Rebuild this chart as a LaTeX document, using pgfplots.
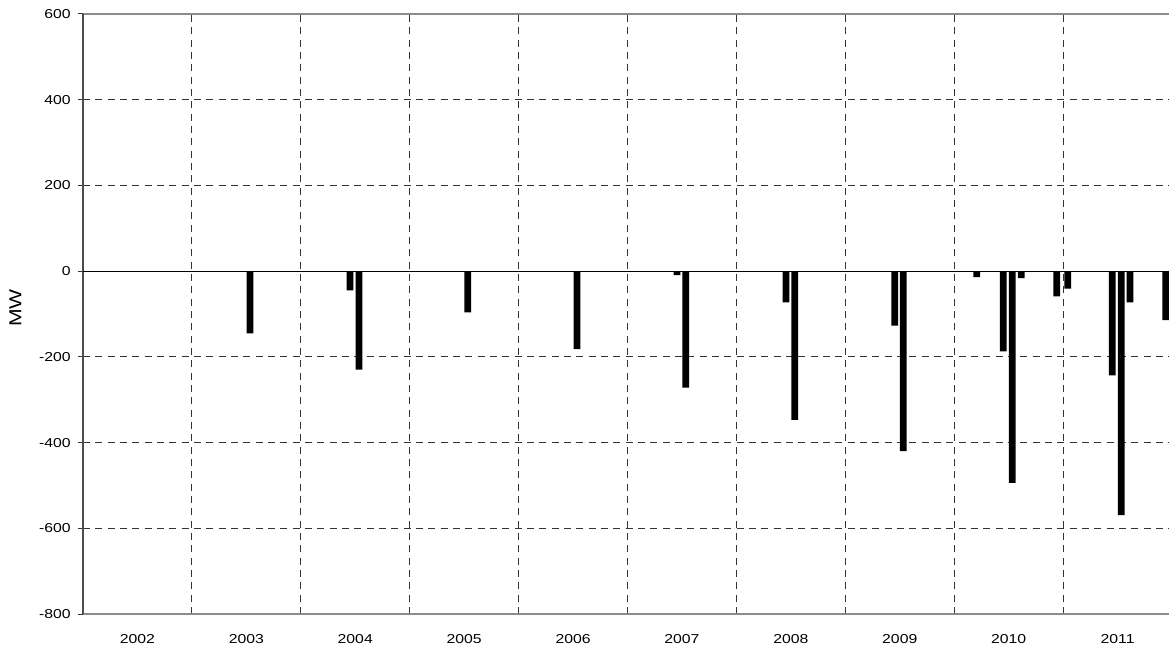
\documentclass[border=0pt]{standalone}
\usepackage{fontspec}
\setmainfont{Liberation Sans}
\newfontfamily\chartfont[FakeStretch=1.22]{Liberation Sans}
\usepackage{pgfplots}
\pgfplotsset{compat=1.18}
\usepackage{pgfplotstable}
\pgfplotstableread{
x y
18.40 -145
29.42 -45
30.41 -230
42.39 -96
54.44 -182
65.45 -9
66.41 -272
77.47 -73
78.42 -347
89.44 -127
90.39 -420
98.48 -14
101.41 -187
102.40 -494
103.39 -16
107.30 -59
108.51 -41
113.42 -243
114.41 -569
115.37 -73
119.31 -114
}\mwdata
\begin{document}
\begin{tikzpicture}
\path[use as bounding box] (-62.25pt,-27pt) rectangle (814.5pt,460.5pt);
\begin{axis}[
  at={(0pt,0pt)}, anchor=south west,
  scale only axis, width=816.75pt, height=450pt,
  xmin=0, xmax=120, ymin=-800, ymax=600,
  xtick={6,18,30,42,54,66,78,90,102,114},
  xticklabels={2002,2003,2004,2005,2006,2007,2008,2009,2010,2011},
  minor xtick={12,24,36,48,60,72,84,96,108},
  ytick={-800,-600,-400,-200,0,200,400,600},
  yticklabels={-800,-600,-400,-200,0,200,400,600},
  xminorgrids, ymajorgrids,
  major grid style={dash pattern=on 5.25pt off 4pt, black!80, line width=0.75pt},
  minor grid style={dash pattern=on 5.25pt off 4pt, black!80, line width=0.75pt},
  x tick style={draw=none},
  y tick style={black!80, line width=0.75pt},
  tick align=outside, major tick length=3.75pt,
  tick label style={font=\chartfont\fontsize{9.7}{11}\selectfont, text=black},
  xticklabel style={yshift=-8pt},
  yticklabel style={xshift=-2pt},
  separate axis lines,
  x axis line style={black!45, line width=1.5pt},
  y axis line style={black!70, line width=1.5pt},
  ylabel={MW},
  every axis y label/.style={at={(axis description cs:-0.0620,0.51)}, rotate=90, anchor=center},
  ylabel style={font=\chartfont\fontsize{13}{15}\selectfont},
  ybar, bar width=0.74,
]
\addplot[fill=black, draw=none] table[x=x, y=y] {\mwdata};
\draw[black, line width=0.75pt] (axis cs:0,0) -- (axis cs:120,0);
\end{axis}
\end{tikzpicture}
\end{document}
